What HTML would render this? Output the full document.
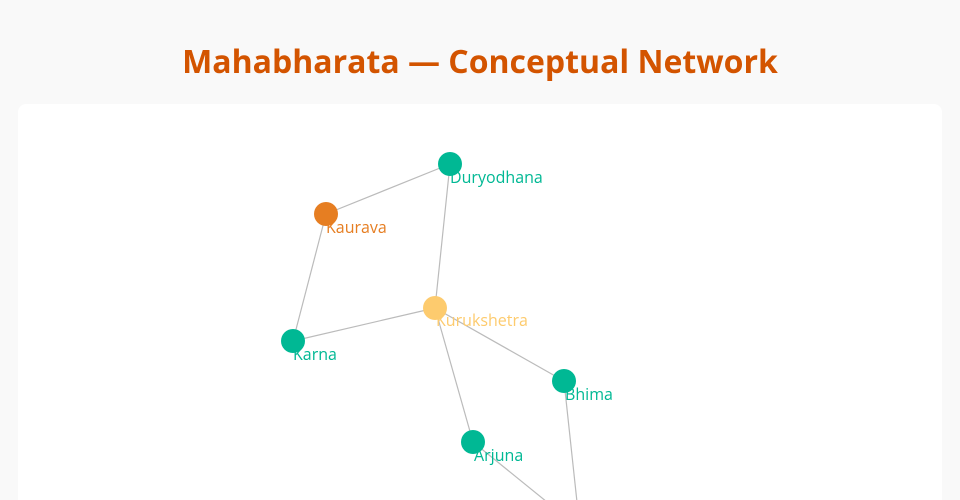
<!DOCTYPE html>
<html><head><style>
html,body{margin:0;width:960px;height:500px;overflow:hidden}
body{background:#f9f9f9;font-family:"Open Sans","Liberation Sans",sans-serif;position:relative}
h1{position:absolute;top:0;left:0;width:960px;margin:0;text-align:center;line-height:124px;font-size:32px;font-weight:bold;color:#d35400}
.card{position:absolute;left:18px;top:104px;width:924px;height:396px;background:#fff;border-radius:8px 8px 0 0}
svg{position:absolute;left:0;top:0}
text{font-family:"Open Sans","Liberation Sans",sans-serif;font-size:16px}
</style></head><body>
<h1>Mahabharata — Conceptual Network</h1>
<div class="card"></div>
<svg width="960" height="500">
<g stroke="#bbb" stroke-width="1.2">
<line x1="450" y1="164" x2="326" y2="214"/>
<line x1="450" y1="164" x2="435" y2="308"/>
<line x1="326" y1="214" x2="293" y2="341"/>
<line x1="293" y1="341" x2="435" y2="308"/>
<line x1="435" y1="308" x2="564" y2="381"/>
<line x1="435" y1="308" x2="473" y2="442"/>
<line x1="473" y1="442" x2="547" y2="502"/>
<line x1="564" y1="381" x2="577" y2="502"/>
</g>
<circle cx="450" cy="164" r="12" fill="#00b894"/>
<circle cx="326" cy="214" r="12" fill="#e67e22"/>
<circle cx="435" cy="308" r="12" fill="#fdcb6e"/>
<circle cx="293" cy="341" r="12" fill="#00b894"/>
<circle cx="564" cy="381" r="12" fill="#00b894"/>
<circle cx="473" cy="442" r="12" fill="#00b894"/>
<text x="450" y="183" fill="#00b894">Duryodhana</text>
<text x="326" y="233" fill="#e67e22">Kaurava</text>
<text x="436" y="326" fill="#fdcb6e">Kurukshetra</text>
<text x="293" y="360" fill="#00b894">Karna</text>
<text x="565" y="400" fill="#00b894">Bhima</text>
<text x="474" y="461" fill="#00b894">Arjuna</text>
</svg>
</body></html>
